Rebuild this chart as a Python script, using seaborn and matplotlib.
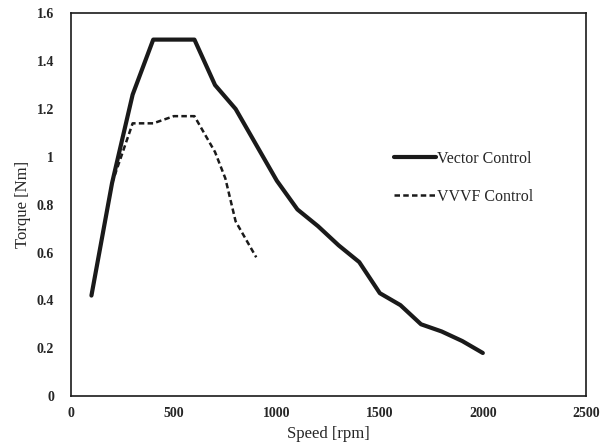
import pandas as pd
import matplotlib
matplotlib.use("Agg")
import matplotlib.pyplot as plt
import seaborn as sns

# Torque vs speed
vector_speed = [100, 200, 300, 400, 500, 600, 700, 800, 900, 1000,
                1100, 1200, 1300, 1400, 1500, 1600, 1700, 1800, 1900, 2000]
vector_torque = [0.42, 0.89, 1.26, 1.49, 1.49, 1.49, 1.30, 1.20, 1.05, 0.90,
                 0.78, 0.71, 0.63, 0.56, 0.43, 0.38, 0.30, 0.27, 0.23, 0.18]

vvvf_speed = [100, 200, 300, 400, 500, 600, 700, 750, 800, 900]
vvvf_torque = [0.42, 0.89, 1.14, 1.14, 1.17, 1.17, 1.02, 0.91, 0.73, 0.58]

x_ticks = [0, 500, 1000, 1500, 2000, 2500]
y_ticks = [0, 0.2, 0.4, 0.6, 0.8, 1, 1.2, 1.4, 1.6]
y_tick_labels = ["0", "0.2", "0.4", "0.6", "0.8", "1", "1.2", "1.4", "1.6"]

sns.set_style("white")
plt.rcParams['font.family'] = ['Liberation Serif', 'DejaVu Serif']

fig = plt.figure(figsize=(6.16, 4.43), dpi=100)
ax = fig.add_axes([0.115, 0.106, 0.836, 0.864])

df_vec = pd.DataFrame({"speed": vector_speed, "torque": vector_torque})
df_vvvf = pd.DataFrame({"speed": vvvf_speed, "torque": vvvf_torque})

sns.lineplot(data=df_vec, x="speed", y="torque", ax=ax, color="#1a1a1a",
             linewidth=3.0, label="Vector Control")
sns.lineplot(data=df_vvvf, x="speed", y="torque", ax=ax, color="#1a1a1a",
             linewidth=1.8, linestyle=(0, (2.2, 1.3)), label="VVVF Control")

ax.set_xlim(0, 2500)
ax.set_ylim(0, 1.6)
ax.set_xticks(x_ticks)
ax.set_yticks(y_ticks)
ax.set_yticklabels(y_tick_labels)
ax.tick_params(axis="x", labelsize=10, length=0, pad=8)
ax.tick_params(axis="y", labelsize=10, length=0, pad=12)
for lab in ax.get_xticklabels() + ax.get_yticklabels():
    lab.set_fontweight("bold")
ax.set_xlabel("Speed [rpm]", fontsize=12, labelpad=4)
ax.set_ylabel("Torque [Nm]", fontsize=12, labelpad=4)

for sp in ax.spines.values():
    sp.set_color("#1a1a1a")
    sp.set_linewidth(1.2)
    sp.set_visible(True)

ax.legend(loc="center left", bbox_to_anchor=(0.60, 0.57), frameon=False,
          fontsize=11.5, handlelength=2.6, handletextpad=0.1, labelspacing=1.4)

fig.savefig("out.png", dpi=100)
